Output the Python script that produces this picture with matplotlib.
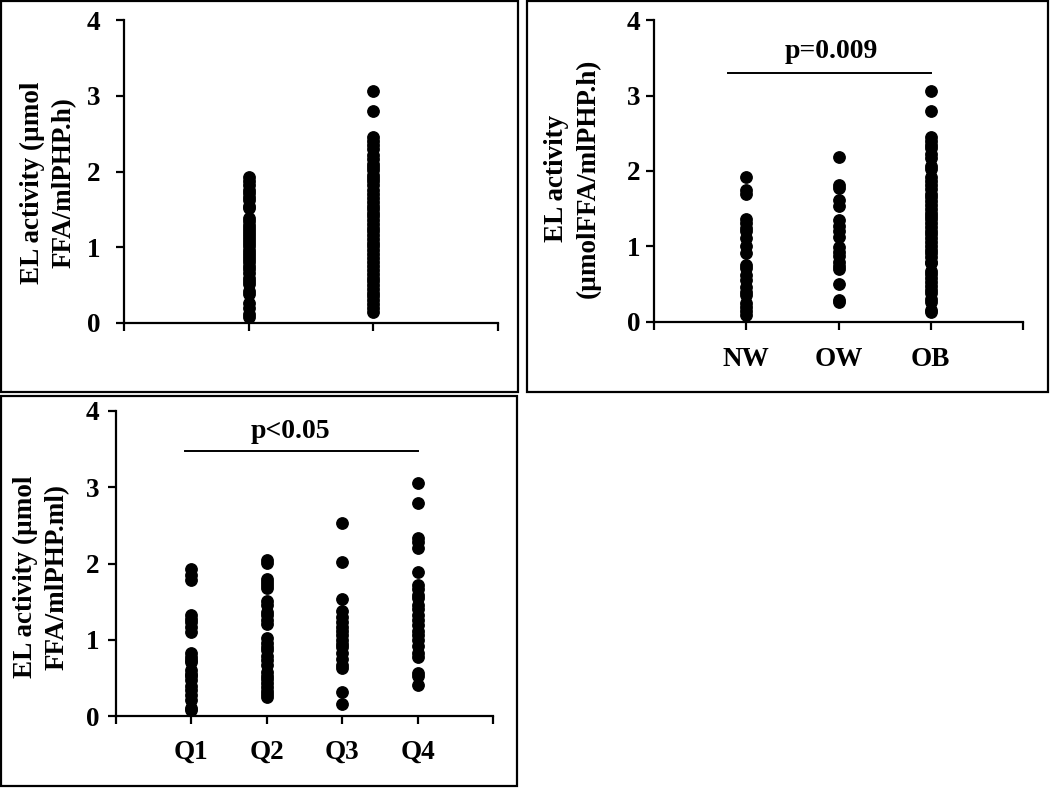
import matplotlib
matplotlib.use("Agg")
import matplotlib.pyplot as plt
from matplotlib.patches import Rectangle

plt.rcParams['font.family'] = ['Liberation Serif', 'DejaVu Serif']
plt.rcParams['font.weight'] = 'bold'

# panel A: two groups without tick labels
groups_a = ["", ""]
a_low = [1.93, 1.88, 1.82, 1.76, 1.71, 1.66, 1.62, 1.55, 1.52, 1.38, 1.34, 1.30,
         1.26, 1.22, 1.18, 1.14, 1.10, 1.05, 1.01, 0.97, 0.93, 0.88, 0.84, 0.80,
         0.75, 0.71, 0.66, 0.60, 0.56, 0.52, 0.42, 0.38, 0.26, 0.20, 0.12, 0.08]
a_high = [3.06, 2.80, 2.45, 2.40, 2.35, 2.30, 2.22, 2.17, 2.10, 2.06, 2.02, 1.96,
          1.92, 1.87, 1.82, 1.76, 1.70, 1.65, 1.60, 1.55, 1.50, 1.45, 1.41, 1.36,
          1.31, 1.26, 1.21, 1.16, 1.11, 1.06, 1.01, 0.96, 0.91, 0.86, 0.80, 0.75,
          0.70, 0.65, 0.60, 0.55, 0.50, 0.45, 0.40, 0.35, 0.30, 0.25, 0.20, 0.15]

# panel B: BMI groups
bmi_groups = ["NW", "OW", "OB"]
nw = [1.92, 1.75, 1.70, 1.37, 1.31, 1.24, 1.20, 1.11, 1.00, 0.91, 0.76, 0.71,
      0.62, 0.55, 0.46, 0.40, 0.36, 0.25, 0.20, 0.14, 0.09]
ow = [2.18, 1.82, 1.78, 1.61, 1.53, 1.35, 1.27, 1.20, 1.13, 0.99, 0.93, 0.87,
      0.80, 0.74, 0.70, 0.50, 0.29, 0.26]
ob = [3.06, 2.80, 2.45, 2.40, 2.35, 2.30, 2.22, 2.17, 2.06, 2.02, 1.92, 1.87,
      1.82, 1.76, 1.70, 1.65, 1.60, 1.55, 1.50, 1.45, 1.41, 1.36, 1.31, 1.26,
      1.21, 1.16, 1.11, 1.06, 1.01, 0.96, 0.91, 0.86, 0.80, 0.78, 0.67, 0.63,
      0.58, 0.53, 0.48, 0.43, 0.38, 0.30, 0.26, 0.16, 0.13]
p_bmi = "p=0.009"

# panel C: quartiles
quartiles = ["Q1", "Q2", "Q3", "Q4"]
q1 = [1.93, 1.85, 1.79, 1.32, 1.27, 1.23, 1.17, 1.10, 0.83, 0.78, 0.74, 0.71,
      0.60, 0.55, 0.52, 0.47, 0.40, 0.34, 0.27, 0.21, 0.10, 0.08]
q2 = [2.04, 2.01, 1.80, 1.76, 1.72, 1.68, 1.51, 1.46, 1.37, 1.32, 1.26, 1.21,
      1.02, 0.96, 0.90, 0.86, 0.79, 0.73, 0.67, 0.58, 0.53, 0.48, 0.43, 0.38,
      0.33, 0.29, 0.25]
q3 = [2.53, 2.02, 1.54, 1.38, 1.30, 1.23, 1.17, 1.12, 1.06, 1.00, 0.95, 0.90,
      0.82, 0.75, 0.67, 0.63, 0.31, 0.16]
q4 = [3.05, 2.79, 2.34, 2.28, 2.20, 1.89, 1.72, 1.66, 1.59, 1.55, 1.45, 1.40,
      1.32, 1.26, 1.19, 1.12, 1.06, 1.00, 0.92, 0.82, 0.78, 0.57, 0.52, 0.41]
p_q = "p<0.05"

W, H = 1050, 788
fig = plt.figure(figsize=(W / 100, H / 100), dpi=100)


def px_axes(left, top, right, bottom):
    return fig.add_axes([left / W, 1 - bottom / H, (right - left) / W, (bottom - top) / H])


def style(ax, ncat, labels, ypad, xpad):
    ax.set_xlim(0, ncat + 1)
    ax.set_ylim(0, 4)
    ax.set_yticks([0, 1, 2, 3, 4])
    ax.set_xticks(range(0, ncat + 2))
    ax.set_xticklabels([""] + labels + [""])
    for s in ["top", "right"]:
        ax.spines[s].set_visible(False)
    for s in ["left", "bottom"]:
        ax.spines[s].set_linewidth(1.6)
    ax.tick_params(axis="both", direction="out", length=6, width=1.6, labelsize=19.5)
    ax.tick_params(axis="y", pad=ypad)
    ax.tick_params(axis="x", pad=xpad)
    ax.patch.set_alpha(0)


def dots(ax, cols):
    for i, vals in enumerate(cols, start=1):
        ax.plot([i] * len(vals), vals, "o", color="black", markersize=8.2, clip_on=False)


# frames round each panel
for (x0, y0, x1, y1) in [(1, 1, 518, 392), (527, 1, 1048, 392), (1, 396, 517, 786)]:
    fig.add_artist(Rectangle((x0 / W, 1 - y1 / H), (x1 - x0) / W, (y1 - y0) / H,
                             transform=fig.transFigure, fill=False,
                             edgecolor="black", linewidth=1.6))

ax1 = px_axes(124, 20, 498, 323)
dots(ax1, [a_low, a_high])
style(ax1, 2, groups_a, 11, 12)
fig.text(48 / W, 1 - 183 / H, "EL activity (\u00b5mol\nFFA/mlPHP.h)", rotation=90,
         ha="center", va="center", fontsize=19.5, linespacing=1.35)

ax2 = px_axes(654, 20, 1023, 322)
dots(ax2, [nw, ow, ob])
style(ax2, 3, bmi_groups, 4, 12)
ax2.plot([0.8, 3.0], [3.3, 3.3], color="black", linewidth=1.4)
ax2.text(1.92, 3.58, p_bmi, ha="center", va="center", fontsize=20)
fig.text(572 / W, 1 - 178 / H, "EL activity\n(\u00b5molFFA/mlPHP.h)", rotation=90,
         ha="center", va="center", fontsize=19.5, linespacing=1.35)

ax3 = px_axes(116, 411, 493, 716)
dots(ax3, [q1, q2, q3, q4])
style(ax3, 4, quartiles, 6, 11)
ax3.plot([0.92, 4.0], [3.48, 3.48], color="black", linewidth=1.4)
ax3.text(2.32, 3.73, p_q, ha="center", va="center", fontsize=20)
fig.text(41 / W, 1 - 577 / H, "EL activity (\u00b5mol\nFFA/mlPHP.ml)", rotation=90,
         ha="center", va="center", fontsize=19.5, linespacing=1.35)

fig.savefig("out.png", dpi=100, facecolor="white")
